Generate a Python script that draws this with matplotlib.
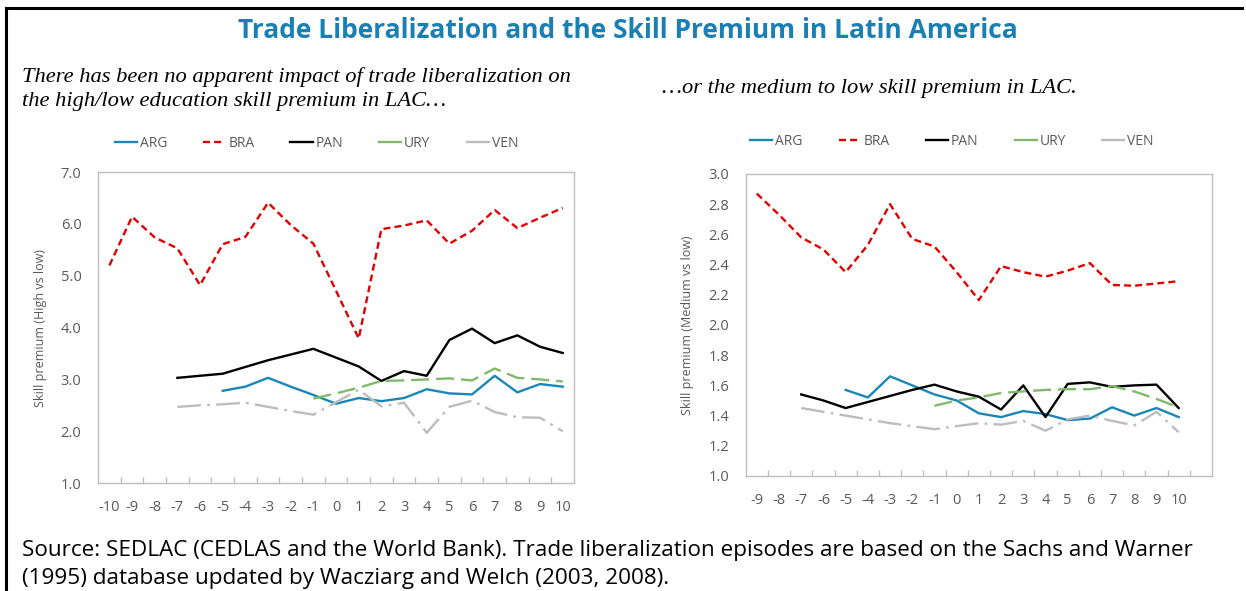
import numpy as np
import matplotlib
matplotlib.use('Agg')
import matplotlib.pyplot as plt
from matplotlib.lines import Line2D

nan = np.nan

# ---- high vs low education skill premium (years around liberalization) ----
years_high = list(range(-10, 11))
arg_high = [nan, nan, nan, nan, nan, 2.78, 2.86, 3.03, 2.86, 2.70, 2.53, 2.64, 2.58, 2.64, 2.81, 2.73, 2.71, 3.07, 2.75, 2.91, 2.86]
bra_high = [5.20, 6.14, 5.74, 5.53, 4.82, 5.61, 5.75, 6.41, 5.98, 5.62, 4.71, 3.79, 5.90, 5.97, 6.07, 5.62, 5.87, 6.27, 5.92, 6.12, 6.31]
pan_high = [nan, nan, nan, 3.03, 3.07, 3.11, 3.24, 3.37, 3.48, 3.59, 3.42, 3.25, 2.97, 3.16, 3.07, 3.76, 3.98, 3.70, 3.85, 3.63, 3.51]
ury_high = [nan, nan, nan, nan, nan, nan, nan, nan, nan, 2.63, 2.73, 2.84, 2.97, 2.98, 3.00, 3.02, 2.98, 3.21, 3.03, 3.00, 2.96]
ven_high = [nan, nan, nan, 2.47, 2.50, 2.52, 2.55, 2.47, 2.39, 2.32, 2.56, 2.80, 2.48, 2.55, 1.97, 2.47, 2.59, 2.37, 2.27, 2.26, 2.00]

# ---- medium vs low education skill premium ----
years_med = list(range(-9, 12))
tick_labels_med = [str(y) for y in range(-9, 11)] + ['']
arg_med = [nan, nan, nan, nan, 1.57, 1.52, 1.66, 1.60, 1.54, 1.50, 1.415, 1.39, 1.43, 1.41, 1.37, 1.38, 1.455, 1.40, 1.45, 1.39, nan]
bra_med = [2.87, 2.73, 2.58, 2.50, 2.35, 2.53, 2.80, 2.57, 2.52, 2.35, 2.165, 2.39, 2.35, 2.32, 2.36, 2.41, 2.265, 2.26, 2.275, 2.29, nan]
pan_med = [nan, nan, 1.54, 1.50, 1.45, 1.49, 1.53, 1.57, 1.605, 1.56, 1.525, 1.44, 1.60, 1.39, 1.61, 1.62, 1.59, 1.60, 1.605, 1.45, nan]
ury_med = [nan, nan, nan, nan, nan, nan, nan, nan, 1.465, 1.50, 1.52, 1.55, 1.56, 1.57, 1.575, 1.575, 1.595, 1.56, 1.51, 1.455, nan]
ven_med = [nan, nan, 1.45, 1.425, 1.40, 1.375, 1.35, 1.33, 1.31, 1.33, 1.35, 1.34, 1.365, 1.30, 1.375, 1.40, 1.365, 1.335, 1.425, 1.29, nan]

countries = ['ARG', 'BRA', 'PAN', 'URY', 'VEN']

plt.rcParams['font.family'] = ['Open Sans', 'DejaVu Sans']
plt.rcParams['lines.scale_dashes'] = False

grey_txt = '#595959'
styles = {
    'ARG': dict(color='#1a87b8', lw=1.7, linestyle='-'),
    'BRA': dict(color='#e00000', lw=1.7, linestyle=(0, (5, 3))),
    'PAN': dict(color='black', lw=1.7, linestyle='-'),
    'URY': dict(color='#7fba6b', lw=1.7, linestyle=(0, (13, 5))),
    'VEN': dict(color='#bdbdbd', lw=1.7, linestyle=(0, (17, 4.5, 2, 4.5))),
}

fig = plt.figure(figsize=(12.46, 5.91), dpi=100)

# outer frame (left and top edges only)
fig.add_artist(Line2D([0.0045, 0.0045], [0.0, 0.987], color='black', lw=2.2, transform=fig.transFigure))
fig.add_artist(Line2D([0.0045, 0.997], [0.987, 0.987], color='black', lw=2.2, transform=fig.transFigure))

fig.text(0.504, 0.949, 'Trade Liberalization and the Skill Premium in Latin America',
         ha='center', va='center', fontsize=19, fontweight='bold', color='#1a7fb2')

fig.text(0.018, 0.850, 'There has been no apparent impact of trade liberalization on\n'
         'the high/low education skill premium in LAC\u2026',
         ha='left', va='center', fontsize=16.2, style='italic',
         family='Liberation Serif', linespacing=1.36)
fig.text(0.531, 0.851, '\u2026or the medium to low skill premium in LAC.',
         ha='left', va='center', fontsize=16.2, style='italic', family='Liberation Serif')

fig.text(0.018, 0.0445, 'Source: SEDLAC (CEDLAS and the World Bank). Trade liberalization episodes are based on the Sachs and Warner\n'
         '(1995) database updated by Wacziarg and Welch (2003, 2008).',
         ha='left', va='center', fontsize=16.2, linespacing=1.45)


def draw_panel(ax, x, series, ylim, yticks, xlim, xlabels, ylabel):
    for name, vals in zip(countries, series):
        ax.plot(x, vals, label=name, **styles[name])
    ax.set_xlim(*xlim)
    ax.set_ylim(*ylim)
    ax.set_yticks(yticks)
    ax.set_yticklabels(['%.1f' % v for v in yticks])
    ax.set_xticks(x)
    ax.set_xticklabels(xlabels)
    ax.set_xticks(np.arange(xlim[0] + 1, xlim[1], 1.0), minor=True)
    ax.tick_params(axis='both', which='major', length=0, labelsize=10.5,
                   labelcolor=grey_txt, pad=12)
    ax.tick_params(axis='x', which='minor', direction='in', length=4,
                   color='#bfbfbf', width=1)
    for sp in ax.spines.values():
        sp.set_color('#bfbfbf')
        sp.set_linewidth(1)
    ax.set_ylabel(ylabel, fontsize=9, color=grey_txt, labelpad=10)


ax1 = fig.add_axes([0.0787, 0.1827, 0.382, 0.526])
draw_panel(ax1, years_high, [arg_high, bra_high, pan_high, ury_high, ven_high],
           (1.0, 7.0), np.arange(1.0, 7.01, 1.0), (-10.5, 10.5),
           [str(y) for y in years_high], 'Skill premium (High vs low)')

ax2 = fig.add_axes([0.5985, 0.1946, 0.3742, 0.511])
draw_panel(ax2, years_med, [arg_med, bra_med, pan_med, ury_med, ven_med],
           (1.0, 3.0), np.arange(1.0, 3.01, 0.2), (-9.5, 11.5),
           tick_labels_med, 'Skill premium (Medium vs low)')

for ax, cx, cy in [(ax1, 0.254, 0.758), (ax2, 0.764, 0.760)]:
    leg = ax.legend(loc='center', bbox_to_anchor=(cx, cy), bbox_transform=fig.transFigure,
                    ncol=5, frameon=False, fontsize=10, handlelength=1.6,
                    handletextpad=0.2, columnspacing=2.6)
    for t in leg.get_texts():
        t.set_color(grey_txt)
    # long-dash series show as plain strokes in the key
    for name, h in zip(countries, leg.get_lines()):
        if name in ('URY', 'VEN'):
            h.set_linestyle('-')

fig.savefig('out.png', dpi=100)
